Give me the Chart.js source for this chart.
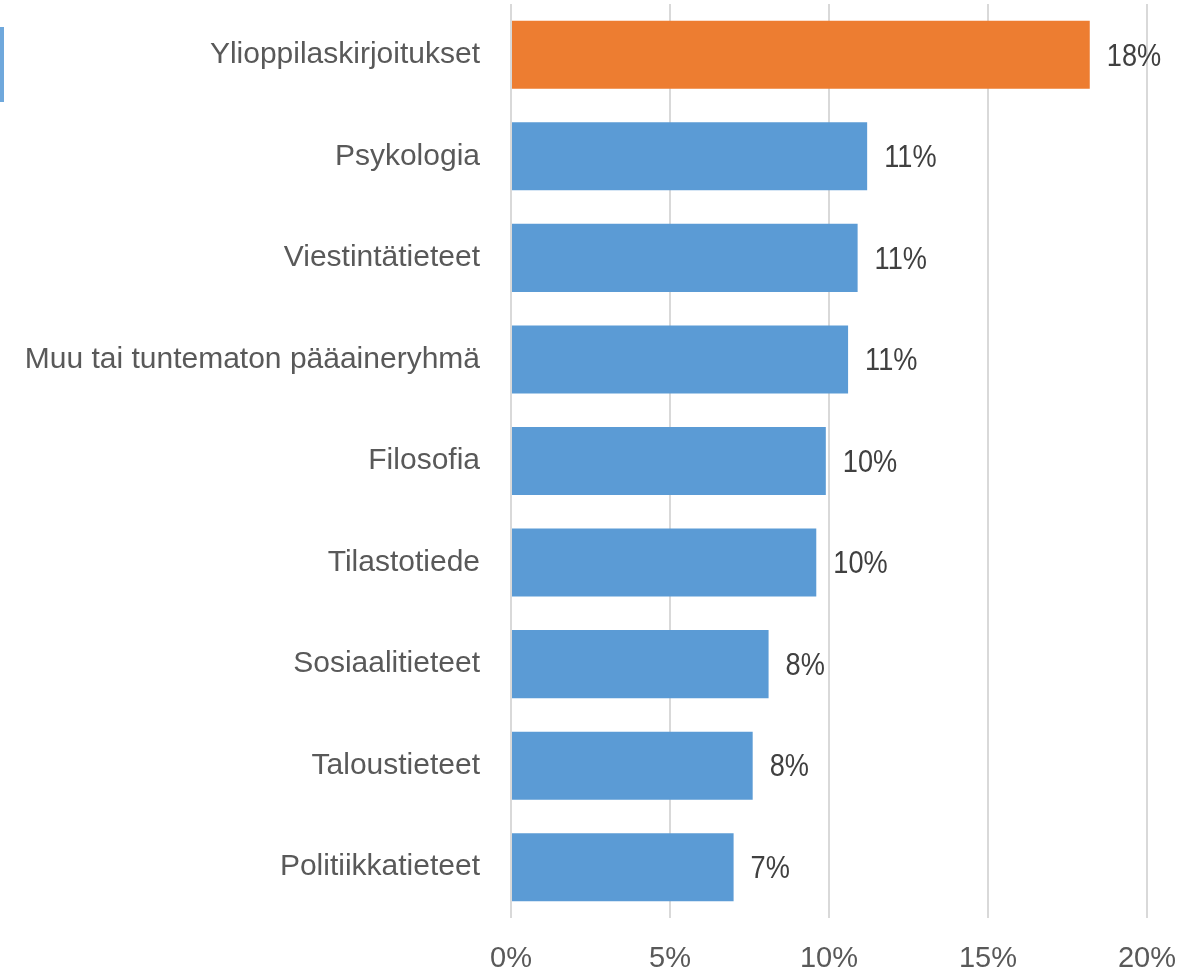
<!DOCTYPE html>
<html>
<head>
<meta charset="utf-8">
<script src="https://cdn.jsdelivr.net/npm/chart.js@4"></script>
<style>
  html, body { margin: 0; padding: 0; background: #fff; }
  #wrap { width: 1201px; height: 976px; position: relative; }
</style>
</head>
<body>
<div id="wrap"><canvas id="chart"></canvas></div>
<script>
var categories = ["Ylioppilaskirjoitukset", "Psykologia", "Viestintätieteet", "Muu tai tuntematon pääaineryhmä",
                  "Filosofia", "Tilastotiede", "Sosiaalitieteet", "Taloustieteet", "Politiikkatieteet"];
var values = [18.2, 11.2, 10.9, 10.6, 9.9, 9.6, 8.1, 7.6, 7.0];
var barColors = ["#ED7D31", "#5B9BD5", "#5B9BD5", "#5B9BD5", "#5B9BD5", "#5B9BD5", "#5B9BD5", "#5B9BD5", "#5B9BD5"];
var tickValues = [0, 5, 10, 15, 20];

var labelFont = "'Liberation Sans', Arial, sans-serif";
var textColor = "#595959";

// value labels next to each bar (drawn a bit condensed)
var valueLabels = {
  id: "valueLabels",
  afterDatasetsDraw(chart) {
    var ctx = chart.ctx;
    var meta = chart.getDatasetMeta(0);
    meta.data.forEach(function (bar, i) {
      ctx.save();
      ctx.font = "32px " + labelFont;
      ctx.fillStyle = "#404040";
      ctx.textAlign = "left";
      ctx.textBaseline = "middle";
      ctx.translate(bar.x + 17, bar.y + 2);
      ctx.scale(0.85, 1);
      ctx.fillText(Math.round(values[i]) + "%", 0, 0);
      ctx.restore();
    });
  }
};

// the little stray legend key at the left edge
var legendStub = {
  id: "legendStub",
  afterDraw(chart) {
    var ctx = chart.ctx;
    ctx.save();
    ctx.fillStyle = "#6FA8DC";
    ctx.fillRect(0, 27, 4, 75);
    ctx.restore();
  }
};

var canvas = document.getElementById("chart");
var config = {
  type: "bar",
  data: {
    labels: categories,
    datasets: [{
      data: values,
      backgroundColor: barColors,
      categoryPercentage: 1,
      barPercentage: 0.67
    }]
  },
  options: {
    indexAxis: "y",
    responsive: true,
    maintainAspectRatio: false,
    animation: false,
    layout: { padding: { top: 4, right: 54, left: 0, bottom: 0 } },
    plugins: { legend: { display: false }, tooltip: { enabled: false } },
    scales: {
      x: {
        min: 0, max: 20,
        afterBuildTicks(axis) { axis.ticks = tickValues.map(function (v) { return { value: v }; }); },
        grid: { color: "#D9D9D9", lineWidth: 2, drawTicks: false },
        border: { display: false },
        ticks: {
          padding: 24,
          color: textColor,
          font: { family: labelFont, size: 29 },
          callback: function (v) { return v + "%"; }
        },
        afterFit(axis) { axis.height = 58; axis.paddingTop = 0; axis.paddingBottom = 0; }
      },
      y: {
        grid: { display: false },
        border: { display: false },
        ticks: {
          padding: 23,
          color: textColor,
          font: { family: labelFont, size: 30 }
        },
        afterFit(axis) { axis.width = 511; axis.paddingTop = 0; axis.paddingBottom = 0; }
      }
    }
  },
  plugins: [valueLabels, legendStub]
};

var barchart = new Chart(canvas, config);
</script>
</body>
</html>
